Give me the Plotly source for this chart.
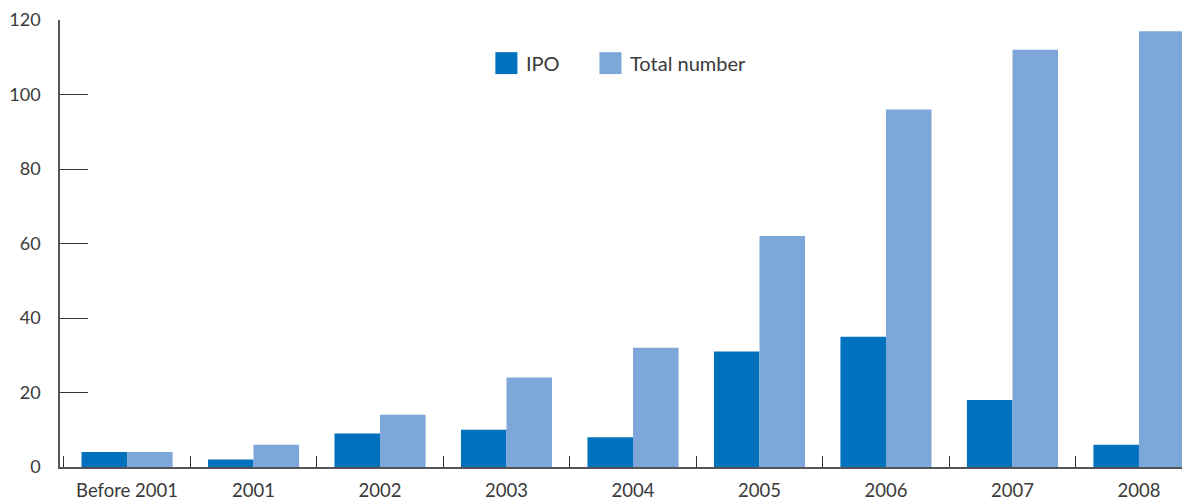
import plotly.graph_objects as go

categories = ["Before 2001", "2001", "2002", "2003", "2004", "2005", "2006", "2007", "2008"]
ipo = [4, 2, 9, 10, 8, 31, 35, 18, 6]
total = [4, 6, 14, 24, 32, 62, 96, 112, 117]
y_ticks = [0, 20, 40, 60, 80, 100, 120]

c_ipo = "#0071BC"
c_total = "#7DA7D9"
font_family = "Lato, 'DejaVu Sans', sans-serif"
text_color = "#3a3a3a"

fig = go.Figure()
fig.add_trace(go.Bar(x=categories, y=ipo, name="IPO", marker_color=c_ipo,
                     marker_line_width=0, showlegend=False))
fig.add_trace(go.Bar(x=categories, y=total, name="Total number", marker_color=c_total,
                     marker_line_width=0, showlegend=False))

# manual legend (large swatches)
legend_items = [("IPO", c_ipo, 0.387), ("Total number", c_total, 0.4795)]
for name, col, x0 in legend_items:
    fig.add_shape(type="rect", xref="paper", yref="paper",
                  x0=x0, x1=x0 + 0.0196, y0=0.879, y1=0.928,
                  fillcolor=col, line_width=0)
    fig.add_annotation(text=name, xref="paper", yref="paper",
                       x=x0 + 0.025, y=0.904, xanchor="left", yanchor="middle",
                       showarrow=False, font=dict(size=20, color=text_color, family=font_family))

# page body has an 8px margin, so the figure is sized/offset to compensate
fig.update_layout(
    width=1182, height=494,
    margin=dict(l=52, r=5, t=12, b=35),
    paper_bgcolor="white", plot_bgcolor="white",
    barmode="group", bargap=0.28, bargroupgap=0,
    font=dict(family=font_family, size=18, color=text_color),
    xaxis=dict(
        type="category", range=[-0.53, 8.364], automargin=False,
        showline=True, linecolor="#555555", linewidth=1.5,
        ticks="inside", tickson="boundaries", ticklen=11, tickcolor="#333333", tickwidth=1.2,
        showgrid=False, zeroline=False,
        tickfont=dict(size=18.5, color=text_color), ticklabelstandoff=6,
    ),
    yaxis=dict(
        range=[0, 120], tickvals=y_ticks, automargin=False,
        showline=True, linecolor="#555555", linewidth=1.5,
        ticks="inside", ticklen=28, tickcolor="#333333", tickwidth=1.2,
        showgrid=False, zeroline=False,
        tickfont=dict(size=18, color=text_color), ticklabelstandoff=14,
    ),
)

fig.write_html("out.html")
